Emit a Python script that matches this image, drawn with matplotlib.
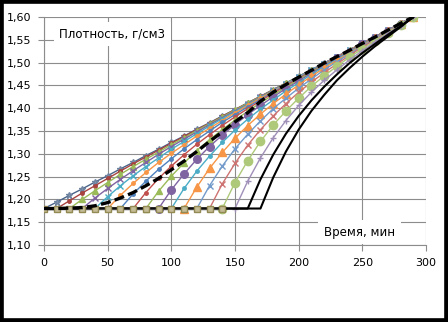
import numpy as np
import matplotlib
matplotlib.use("Agg")
import matplotlib.pyplot as plt
from matplotlib.patches import Rectangle

# start time (min) of each density curve; points every 10 min up to 290 min
start_times = [0, 10, 20, 30, 40, 50, 60, 70, 80, 90, 100, 110, 120, 130, 140, 150, 160, 170]

dens_0 = [1.180,1.194,1.209,1.223,1.238,1.252,1.267,1.281,1.296,1.310,1.325,1.339,1.354,1.368,1.383,1.397,1.412,1.426,1.441,1.455,1.470,1.484,1.499,1.513,1.528,1.542,1.557,1.571,1.586,1.600]
dens_10 = [1.180,1.197,1.214,1.230,1.246,1.262,1.278,1.293,1.308,1.323,1.338,1.353,1.367,1.382,1.397,1.411,1.426,1.440,1.455,1.469,1.484,1.499,1.513,1.528,1.542,1.557,1.571,1.586,1.600]
dens_20 = [1.180,1.200,1.219,1.237,1.255,1.272,1.288,1.304,1.320,1.335,1.351,1.366,1.381,1.396,1.411,1.425,1.440,1.455,1.469,1.484,1.498,1.513,1.527,1.542,1.556,1.571,1.585,1.600]
dens_30 = [1.180,1.203,1.224,1.244,1.263,1.281,1.299,1.316,1.332,1.348,1.364,1.379,1.394,1.409,1.424,1.439,1.454,1.469,1.483,1.498,1.513,1.527,1.542,1.556,1.571,1.585,1.600]
dens_40 = [1.180,1.206,1.230,1.252,1.272,1.291,1.310,1.327,1.344,1.361,1.377,1.392,1.408,1.423,1.438,1.453,1.468,1.483,1.498,1.512,1.527,1.542,1.556,1.571,1.585,1.600]
dens_50 = [1.180,1.209,1.235,1.259,1.281,1.301,1.320,1.339,1.356,1.373,1.390,1.406,1.422,1.437,1.452,1.467,1.482,1.497,1.512,1.527,1.542,1.556,1.571,1.585,1.600]
dens_60 = [1.180,1.212,1.240,1.266,1.289,1.311,1.331,1.350,1.369,1.386,1.403,1.419,1.435,1.451,1.466,1.482,1.497,1.512,1.526,1.541,1.556,1.571,1.585,1.600]
dens_70 = [1.180,1.215,1.246,1.273,1.298,1.321,1.342,1.362,1.381,1.399,1.416,1.433,1.449,1.465,1.480,1.496,1.511,1.526,1.541,1.556,1.570,1.585,1.600]
dens_80 = [1.180,1.218,1.251,1.280,1.307,1.331,1.353,1.374,1.393,1.412,1.429,1.446,1.463,1.479,1.495,1.510,1.525,1.540,1.555,1.570,1.585,1.600]
dens_90 = [1.180,1.221,1.256,1.288,1.316,1.341,1.364,1.386,1.406,1.425,1.443,1.460,1.477,1.493,1.509,1.524,1.540,1.555,1.570,1.585,1.600]
dens_100 = [1.180,1.224,1.262,1.295,1.325,1.352,1.376,1.398,1.418,1.438,1.456,1.474,1.491,1.507,1.523,1.539,1.554,1.569,1.585,1.600]
dens_110 = [1.180,1.227,1.268,1.303,1.334,1.362,1.387,1.410,1.431,1.451,1.470,1.488,1.505,1.521,1.538,1.553,1.569,1.584,1.600]
dens_120 = [1.180,1.230,1.273,1.311,1.343,1.372,1.399,1.422,1.444,1.464,1.484,1.502,1.519,1.536,1.552,1.568,1.584,1.600]
dens_130 = [1.180,1.234,1.279,1.319,1.353,1.383,1.410,1.435,1.457,1.478,1.497,1.516,1.534,1.550,1.567,1.583,1.600]
dens_140 = [1.180,1.237,1.285,1.327,1.363,1.394,1.422,1.448,1.471,1.492,1.512,1.530,1.548,1.566,1.582,1.600]
dens_150 = [1.180,1.240,1.291,1.335,1.373,1.406,1.435,1.461,1.484,1.506,1.526,1.545,1.564,1.581,1.600]
dens_160 = [1.180,1.244,1.298,1.344,1.383,1.417,1.447,1.474,1.499,1.521,1.541,1.561,1.580,1.600]
dens_170 = [1.180,1.248,1.305,1.353,1.394,1.429,1.461,1.488,1.513,1.536,1.557,1.578,1.600]
series_values = [dens_0, dens_10, dens_20, dens_30, dens_40, dens_50, dens_60, dens_70, dens_80,
                 dens_90, dens_100, dens_110, dens_120, dens_130, dens_140, dens_150, dens_160, dens_170]

initial_density = 1.18
flat_times = [0,10,20,30,40,50,60,70,80,90,100,110,120,130,140]

dashed_times = [0,10,20,30,40,50,60,70,80,90,100,110,120,130,140,150,160,170,180,190,200,210,220,230,240,250,260,270,280,290]
dashed_vals = [1.18,1.18,1.181,1.182,1.186,1.193,1.203,1.215,1.23,1.246,1.265,1.284,1.305,1.327,1.348,1.37,1.39,1.415,1.435,1.452,1.468,1.483,1.499,1.513,1.527,1.542,1.556,1.571,1.586,1.60]

x_ticks = [0, 50, 100, 150, 200, 250, 300]
y_ticks = [1.10, 1.15, 1.20, 1.25, 1.30, 1.35, 1.40, 1.45, 1.50, 1.55, 1.60]
y_ticklabels = ['1,10','1,15','1,20','1,25','1,30','1,35','1,40','1,45','1,50','1,55','1,60']

styles = [
    dict(color='#4A6489', marker='*', ms=5, mfc='#8497B0', mec='#6F84A0', lw=1.0),
    dict(color='#A8433F', marker='o', ms=2.5, lw=1.0),
    dict(color='#9BBB59', marker='^', ms=5, lw=1.0),
    dict(color='#8064A2', marker='x', ms=4, lw=1.0),
    dict(color='#4BACC6', marker='x', ms=4, lw=1.0),
    dict(color='#F79646', marker='o', ms=2.5, lw=1.0),
    dict(color='#4F81BD', marker='o', ms=2.5, lw=1.0),
    dict(color='#C0504D', marker='o', ms=2.5, lw=1.0),
    dict(color='#9BBB59', marker='^', ms=4, lw=1.0),
    dict(color='#8064A2', marker='o', ms=5.5, lw=1.0),
    dict(color='#4BACC6', marker='o', ms=2.5, lw=1.0),
    dict(color='#F79646', marker='^', ms=6, lw=1.0),
    dict(color='#729ACA', marker='x', ms=5, lw=1.0),
    dict(color='#CD7371', marker='x', ms=5, lw=1.0),
    dict(color='#AFC97A', marker='o', ms=6, lw=1.0),
    dict(color='#A08FB8', marker='+', ms=5, lw=1.0),
    dict(color='#000000', marker='', lw=1.5),
    dict(color='#000000', marker='', lw=1.5),
]

fig = plt.figure(figsize=(4.48, 3.22), dpi=100)
ax = fig.add_axes([44/448, 1-245/322, 382/448, 228/322])

for t0, vals, st in zip(start_times, series_values, styles):
    t = list(np.arange(t0, t0 + 10*len(vals), 10))
    if t0 > 0:
        tt = [0] + t
        vv = [initial_density] + vals
        every = list(range(1, len(tt)))
    else:
        tt, vv, every = t, vals, None
    ax.plot(tt, vv, mew=1.0, markevery=every, zorder=3, **st)

ax.plot(flat_times, [initial_density]*len(flat_times), color='#404040', lw=1, marker='s',
        ms=4.5, mfc='#C4BD97', mec='#938953', zorder=4)
ax.plot(dashed_times, dashed_vals, color='black', lw=2.4, ls=(0, (3, 1.3)), zorder=5)

ax.set_xlim(0, 300)
ax.set_ylim(1.10, 1.60)
ax.set_xticks(x_ticks)
ax.set_yticks(y_ticks)
ax.set_yticklabels(y_ticklabels)
ax.grid(True, color='#8C8C8C', lw=0.8)
ax.set_axisbelow(True)
for s in ['top', 'right']:
    ax.spines[s].set_visible(False)
for s in ['left', 'bottom']:
    ax.spines[s].set_color('#8C8C8C')
ax.tick_params(direction='out', length=4, color='#8C8C8C', labelsize=8, pad=5)
ax.text(0.04, 0.955, 'Плотность, г/см3', transform=ax.transAxes, fontsize=8.5, va='top',
        bbox=dict(facecolor='white', edgecolor='none', pad=4), zorder=6)
ax.text(0.733, 0.057, 'Время, мин', transform=ax.transAxes, fontsize=8.5, va='center',
        bbox=dict(facecolor='white', edgecolor='none', pad=4), zorder=6)
fig.patches.append(Rectangle((0, 0), 1, 1, transform=fig.transFigure, fill=False,
                             edgecolor='black', lw=5.5))
fig.savefig('out.png', dpi=100)
